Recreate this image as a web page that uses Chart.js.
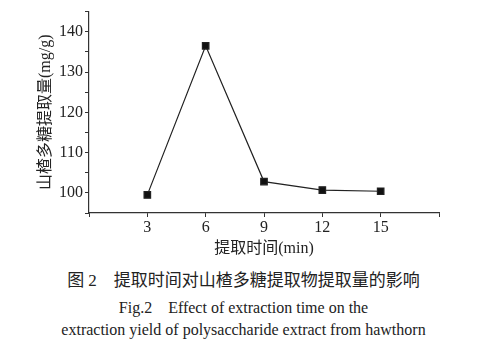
<!DOCTYPE html>
<html>
<head>
<meta charset="utf-8">
<script src="https://cdn.jsdelivr.net/npm/chart.js@4"></script>
<style>
    body { margin: 0; background: #fff; }
    #wrap { position: relative; width: 487px; height: 351px; }
    #chart-box { position: absolute; left: 0; top: 0; width: 487px; height: 258px; }
    .cap { position: absolute; left: 0; width: 487px; text-align: center; color: #222;
           font-family: "Liberation Serif", "Noto Sans CJK SC", serif; white-space: pre; }
</style>
</head>
<body>
<div id="wrap">
    <div id="chart-box"><canvas id="time-chart"></canvas></div>
    <div class="cap" style="top:266px;font-size:17px;">图 2　提取时间对山楂多糖提取物提取量的影响</div>
    <div class="cap" style="top:294px;font-size:16px;">Fig.2　Effect of extraction time on the</div>
    <div class="cap" style="top:321px;font-size:16px;">extraction yield of polysaccharide extract from hawthorn</div>
</div>
<script>
// extraction time (min) and yield (mg/g)
const times = [3, 6, 9, 12, 15]
const yields = [99.5, 136.5, 102.8, 100.7, 100.4]
const x_tick_labels = [3, 6, 9, 12, 15]
const y_tick_labels = [100, 110, 120, 130, 140]

const font_family = '"Liberation Serif", "Noto Sans CJK SC", serif'
const axis_color = '#333'

const data = {
    datasets: [{
        label: '提取量',
        data: times.map((t, i) => ({x: t, y: yields[i]})),
        borderColor: '#222',
        borderWidth: 1.2,
        backgroundColor: '#111',
        pointStyle: 'rect',
        pointRadius: 4.6,
        pointHoverRadius: 4.6,
        tension: 0
    }]
}

const config = {
    type: 'line',
    data: data,
    options: {
        responsive: true,
        maintainAspectRatio: false,
        animation: false,
        layout: {padding: {left: 0, right: 48, top: 6, bottom: 0}},
        plugins: {legend: {display: false}, tooltip: {enabled: false}},
        scales: {
            x: {
                type: 'linear',
                min: 0,
                max: 18,
                afterFit: (s) => { s.height = 45 },
                ticks: {
                    stepSize: 3,
                    autoSkip: false,
                    color: '#222',
                    padding: 1,
                    maxRotation: 0,
                    font: {family: font_family, size: 16},
                    callback: (v) => x_tick_labels.includes(v) ? String(v) : ''
                },
                grid: {drawOnChartArea: false, color: axis_color, tickLength: 4},
                border: {color: axis_color, width: 1.2},
                title: {
                    display: true,
                    text: '提取时间(min)',
                    color: '#222',
                    padding: {top: 0, bottom: 0},
                    font: {family: font_family, size: 16}
                }
            },
            y: {
                min: 95,
                max: 145,
                afterFit: (s) => { s.width = 89 },
                ticks: {
                    stepSize: 5,
                    autoSkip: false,
                    color: '#222',
                    padding: 2,
                    font: {family: font_family, size: 16},
                    callback: (v) => y_tick_labels.includes(v) ? String(v) : ''
                },
                grid: {drawOnChartArea: false, color: axis_color, tickLength: 4},
                border: {color: axis_color, width: 1.2},
                title: {
                    display: true,
                    text: '山楂多糖提取量(mg/g)',
                    color: '#222',
                    padding: {top: 36, bottom: 0},
                    font: {family: font_family, size: 16}
                }
            }
        }
    }
}

let crt = new Chart(document.querySelector('#time-chart'), config)
</script>
</body>
</html>
